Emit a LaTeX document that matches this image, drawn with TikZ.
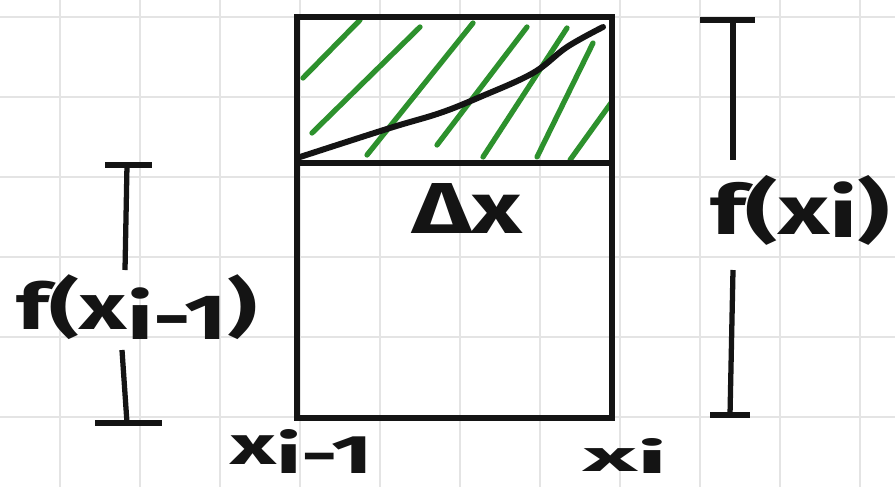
\documentclass[tikz,border=0pt]{standalone}
\usepackage{fontspec}
\setmainfont{Fira Sans}
\definecolor{hatchgreen}{RGB}{45,145,45}
\definecolor{gridgray}{RGB}{228,228,228}
\definecolor{ink}{RGB}{20,20,20}
\begin{document}
\begin{tikzpicture}[x=0.02cm,y=-0.02cm,
  gridln/.style={draw=gridgray,line width=1.1pt},
  boxln/.style={draw=ink,line width=3.3pt},
  hatchln/.style={draw=hatchgreen,line width=3pt,line cap=round},
  curveln/.style={draw=ink,line width=3.4pt,line cap=round},
  brk/.style={draw=ink,line width=3pt},
  lbl/.style={inner sep=0pt,text=ink,font=\bfseries}]
\fill[white] (0,0) rectangle (895,487);
\useasboundingbox (0,0) rectangle (895,487);
% grid
\foreach \gx in {60,140,...,860} \draw[gridln] (\gx,0) -- (\gx,487);
\foreach \gy in {17,97,...,487} \draw[gridln] (0,\gy) -- (895,\gy);
% hatching
\draw[hatchln] (303,78) -- (360,20);
\draw[hatchln] (312,133) -- (420,27);
\draw[hatchln] (367,155) -- (473,23);
\draw[hatchln] (437,145) -- (527,27);
\draw[hatchln] (483,157) -- (567,28);
\draw[hatchln] (537,157) -- (593,43);
\draw[hatchln] (570,160) -- (611,103);
% curve
\draw[curveln] plot[smooth,tension=0.6] coordinates {(300,157) (390,128) (440,113) (480,97) (533,73) (567,47) (603,27)};
% rectangle
\draw[boxln] (297,17) rectangle (612,418);
\draw[boxln] (297,163) -- (612,163);
% labels
\node[lbl] (fa) at (137,307) {\resizebox*{4.8cm}{1.3cm}{f(x\raisebox{-0.3ex}{i-1})}};
\node[lbl] (fb) at (800,210) {\resizebox*{3.6cm}{1.4cm}{f(x\raisebox{-0.1ex}{i})}};
\node[lbl] (dx) at (467,208) {\resizebox*{2.2cm}{1.0cm}{Δx}};
\node[lbl] (xa) at (302,451) {\resizebox*{2.86cm}{0.88cm}{x\raisebox{-0.3ex}{i-1}}};
\node[lbl] (xb) at (625,456) {\resizebox*{1.68cm}{0.7cm}{x\raisebox{-0.1ex}{i}}};
% left bracket
\coordinate (la1) at (105,165); \coordinate (la2) at (152,165);
\coordinate (la3) at (127,165); \coordinate (la4) at (125,270);
\coordinate (lb1) at (122,350); \coordinate (lb2) at (127,423);
\coordinate (lb3) at (95,423); \coordinate (lb4) at (162,423);
\draw[brk] (la1) -- (la2);
\draw[brk] (la3) -- (la4);
\draw[brk] (lb1) -- (lb2);
\draw[brk] (lb3) -- (lb4);
% right bracket
\coordinate (ra1) at (700,20); \coordinate (ra2) at (755,20);
\coordinate (ra3) at (733,20); \coordinate (ra4) at (733,160);
\coordinate (rb1) at (733,270); \coordinate (rb2) at (730,415);
\coordinate (rb3) at (710,415); \coordinate (rb4) at (750,415);
\draw[brk] (ra1) -- (ra2);
\draw[brk] (ra3) -- (ra4);
\draw[brk] (rb1) -- (rb2);
\draw[brk] (rb3) -- (rb4);
\end{tikzpicture}
\end{document}
